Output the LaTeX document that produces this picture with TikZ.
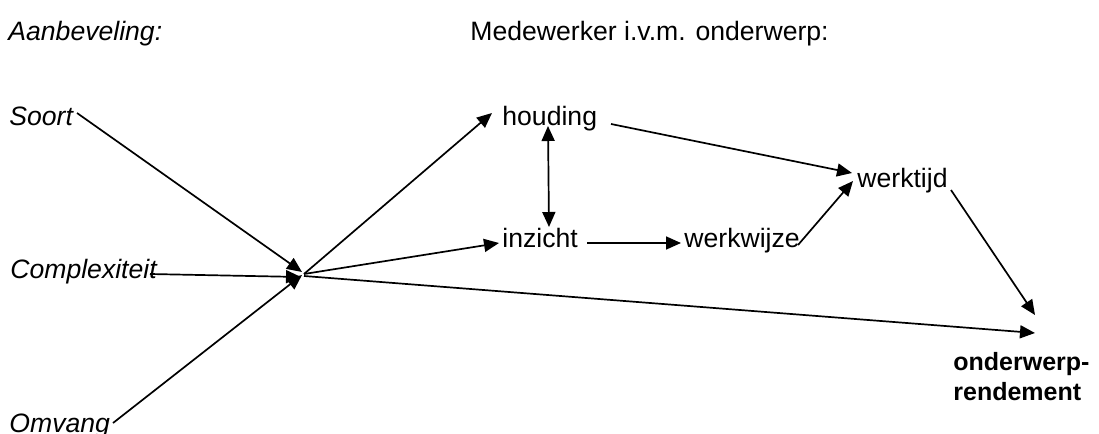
\documentclass[tikz,border=0pt]{standalone}
\usepackage{fontspec}
\setmainfont{Liberation Sans}
\usetikzlibrary{arrows.meta}
\begin{document}
\begin{tikzpicture}[x=0.5pt,y=-0.5pt,
  lbl/.style={anchor=base west,inner sep=0pt,font=\fontsize{13.3}{14.5}\selectfont},
  ilbl/.style={lbl,font=\fontsize{13.3}{14.5}\selectfont\itshape},
  blbl/.style={lbl,align=left,font=\fontsize{12.5}{15}\selectfont\bfseries},
  conn/.style={line width=0.85pt},
  tip/.tip={Triangle[length=7.5pt,width=6.5pt]},
  arr/.style={conn,-tip},
  darr/.style={conn,tip-tip}]
\useasboundingbox (0,0) rectangle (1099,434);

% headings
\node[ilbl] (aanb) at (8,40) {Aanbeveling:};
\node[lbl] (medew) at (470,40) {Medewerker i.v.m. onderwerp:};

% recommendation factors
\node[ilbl] (soort) at (9,125) {Soort};
\node[ilbl] (compl) at (10,278) {Complexiteit};
\node[ilbl] (omv) at (9,432) {Omvang};

% employee factors
\node[lbl] (houd) at (502,125) {houding};
\node[lbl] (inz) at (502,247) {inzicht};
\node[lbl] (wwijze) at (684,247) {werkwijze};
\node[lbl] (wtijd) at (857,187) {werktijd};
\node[blbl] (rend) at (953,400) {onderwerp-\\rendement};

% connector end points
\coordinate (soortE) at (77,113);
\coordinate (complE) at (150,274);
\coordinate (omvE) at (113,423);
\coordinate (hubA) at (302,272);
\coordinate (hubB) at (301,277);
\coordinate (hubC) at (302,275);
\coordinate (hubO) at (304,274);
\coordinate (hubR) at (304,276);
\coordinate (houdW) at (492,113);
\coordinate (inzW) at (499,243);
\coordinate (rendN) at (1035,333);
\coordinate (rendT) at (1035,315);
\coordinate (houdS) at (548,126);
\coordinate (inzN) at (549,227);
\coordinate (inzE) at (587,243);
\coordinate (wwijzeW) at (681,243);
\coordinate (houdE) at (611,124);
\coordinate (wtijdW) at (852,173);
\coordinate (wwijzeE) at (798,245);
\coordinate (wtijdSW) at (853,181);
\coordinate (wtijdE) at (951,190);

% converging arrows
\draw[arr] (soortE) -- (hubA);
\draw[arr] (complE) -- (hubB);
\draw[arr] (omvE) -- (hubC);

% outgoing arrows
\draw[arr] (hubO) -- (houdW);
\draw[arr] (hubO) -- (inzW);
\draw[arr] (hubR) -- (rendN);

\draw[darr] (houdS) -- (inzN);
\draw[arr] (inzE) -- (wwijzeW);
\draw[arr] (houdE) -- (wtijdW);
\draw[arr] (wwijzeE) -- (wtijdSW);
\draw[arr] (wtijdE) -- (rendT);
\end{tikzpicture}
\end{document}
